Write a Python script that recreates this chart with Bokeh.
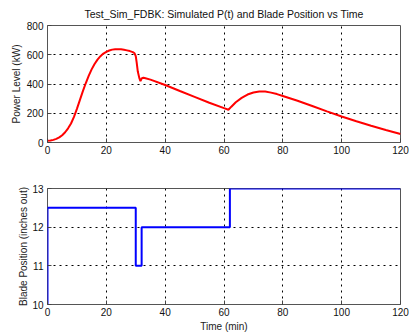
from bokeh.plotting import figure
from bokeh.layouts import column
from bokeh.models import FixedTicker, Range1d
from bokeh.embed import file_html
from bokeh.resources import INLINE

# ---- data ----
t_power = [0, 1, 2, 3, 4, 5, 6, 7, 8, 9, 10, 11, 12, 13, 14, 15, 16, 17, 18, 19,
           20, 21, 22, 23, 24, 25, 26, 27, 28, 29, 29.6, 30, 30.3, 30.7, 31.2, 31.6,
           32.1, 32.6, 33, 35, 40, 45, 50, 55, 60, 61.5, 62.5, 64, 66, 68, 70, 72,
           74, 76, 78, 80, 85, 90, 95, 100, 105, 110, 115, 120]
power = [12, 14, 18, 25, 35, 50, 70, 97, 130, 175, 230, 290, 350, 405, 455, 500,
         537, 567, 590, 608, 620, 629, 635, 638, 638, 637, 634, 630, 625, 618, 610,
         590, 550, 485, 442, 420, 440, 443, 441, 430, 393, 352, 312, 272, 235, 224,
         245, 275, 305, 328, 342, 349, 348, 341, 331, 318, 285, 250, 213, 178, 145,
         115, 86, 58]

t_blade = [0, 0, 30, 32, 62, 120]
blade = [10, 12.5, 11, 12, 13, 13]

x_ticks = [0, 20, 40, 60, 80, 100, 120]
power_ticks = [0, 200, 400, 600, 800]
blade_ticks = [10, 11, 12, 13]

FONT = "Liberation Sans"


def style(p, yticks):
    p.xaxis.ticker = FixedTicker(ticks=x_ticks)
    p.yaxis.ticker = FixedTicker(ticks=yticks)
    p.xgrid.ticker = FixedTicker(ticks=x_ticks)
    p.ygrid.ticker = FixedTicker(ticks=yticks)
    for ax in (p.xaxis, p.yaxis):
        ax.major_tick_in = 4
        ax.major_tick_out = 0
        ax.minor_tick_in = 0
        ax.minor_tick_out = 0
        ax.axis_line_color = None
        ax.major_tick_line_color = "#444444"
        ax.major_label_text_font = FONT
        ax.major_label_text_font_size = "10px"
        ax.major_label_text_color = "#111111"
        ax.axis_label_text_font = FONT
        ax.axis_label_text_font_size = "10px"
        ax.axis_label_text_font_style = "normal"
        ax.axis_label_text_color = "#222222"
    p.xaxis.major_label_standoff = 3
    p.yaxis.major_label_standoff = 4
    p.xaxis.axis_label_standoff = 2
    for g in (p.xgrid, p.ygrid):
        g.grid_line_color = "#000000"
        g.grid_line_dash = "dotted"
        g.grid_line_width = 1
        g.grid_line_alpha = 1.0
    p.outline_line_color = "#555555"
    p.outline_line_width = 1
    p.outline_line_alpha = 1
    p.background_fill_color = "white"
    p.border_fill_color = "white"


p1 = figure(width=409, height=165, output_backend="svg", toolbar_location=None,
            x_range=Range1d(0, 120), y_range=Range1d(0, 800),
            min_border_left=47, min_border_right=9, min_border_top=25,
            min_border_bottom=23,
            title="Test_Sim_FDBK: Simulated P(t) and Blade Position vs Time")
p1.title.align = "center"
p1.title.text_font = FONT
p1.title.text_font_size = "10.5px"
p1.title.text_font_style = "normal"
p1.title.text_color = "#111111"
p1.title.standoff = 11
p1.yaxis.axis_label = "Power Level (kW)"
style(p1, power_ticks)
p1.yaxis.axis_label_standoff = 2
p1.line(t_power, power, line_color="#ff0000", line_width=2)

p2 = figure(width=409, height=171, output_backend="svg", toolbar_location=None,
            x_range=Range1d(0, 120), y_range=Range1d(10, 13),
            min_border_left=47, min_border_right=9, min_border_top=23,
            min_border_bottom=32)
p2.yaxis.axis_label = "Blade Position (inches out)"
p2.xaxis.axis_label = "Time (min)"
style(p2, blade_ticks)
p2.yaxis.axis_label_standoff = 0
p2.step(t_blade, blade, mode="after", line_color="#0000ff", line_width=2)

layout = column(p1, p2, spacing=0)
open("out.html", "w").write(file_html(layout, INLINE))
